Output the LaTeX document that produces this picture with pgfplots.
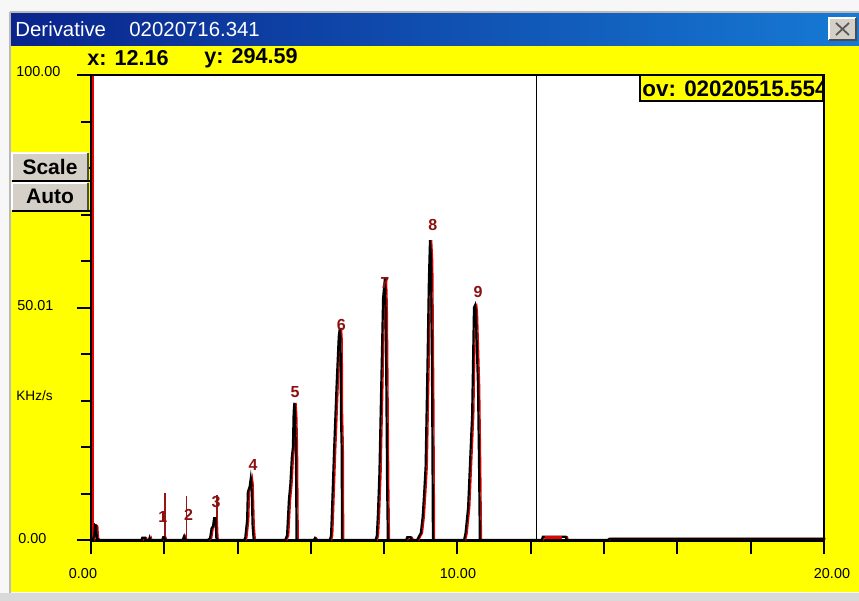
\documentclass[border=0pt]{standalone}
\usepackage{pgfplots}
\pgfplotsset{compat=1.18}
\usepackage{pgfplotstable}
\usepackage{fontspec}
\setmainfont{Liberation Sans}

\definecolor{winyellow}{RGB}{255,255,0}
\definecolor{btngray}{RGB}{212,208,200}
\definecolor{peaklbl}{RGB}{140,16,16}
\definecolor{markline}{RGB}{150,20,20}
\definecolor{tracered}{RGB}{235,0,0}
\definecolor{barleft}{RGB}{10,36,140}
\definecolor{barright}{RGB}{22,122,212}

% derivative trace (x in min, y in KHz/s)
\pgfplotstableread{
x y
0.00 0
0.05 0
0.09 1.0
0.11 3.2
0.14 3.0
0.16 0.5
0.20 0
1.38 0
1.40 0.5
1.47 0.5
1.49 0
1.58 0
1.60 0.5
1.62 0
1.94 0
1.97 0.6
2.00 0.6
2.02 0
2.50 0
2.54 0.8
2.56 0.3
2.58 0
3.19 0
3.25 0.4
3.29 2.5
3.33 3.0
3.36 4.7
3.40 4.7
3.42 0.5
3.44 0
4.18 0
4.21 0.5
4.26 4.3
4.28 10.3
4.33 11.5
4.36 13.3
4.38 12.0
4.41 3.0
4.44 0
5.30 0
5.35 1.0
5.40 8.6
5.44 12.0
5.48 17.8
5.51 20.0
5.53 27.5
5.55 29.5
5.57 27.0
5.59 20.0
5.61 0
6.08 0
6.11 0.4
6.14 0
6.52 0
6.55 1.0
6.57 5.0
6.63 18.7
6.70 33.0
6.76 43.7
6.79 45.6
6.81 43.0
6.82 27.0
6.84 20.0
6.85 0
7.77 0
7.80 1.0
7.83 5.7
7.87 14.4
7.93 37.0
7.97 52.0
8.02 56.3
8.04 50.0
8.06 32.0
8.08 12.0
8.10 0
8.60 0
8.63 0.6
8.72 0.6
8.75 0
8.90 0
8.95 0.8
9.00 1.5
9.05 5.0
9.09 10.0
9.13 15.7
9.18 37.0
9.22 56.0
9.25 64.5
9.28 59.8
9.31 30.0
9.33 0
10.18 0
10.22 1.5
10.29 7.0
10.35 18.0
10.40 27.0
10.45 50.0
10.48 50.5
10.50 49.0
10.56 33.0
10.59 15.0
10.61 0
12.30 0
12.33 0.7
12.95 0.7
12.98 0
14.10 0
14.15 0.3
20.00 0.3
}\tracedata

\begin{document}
\begin{tikzpicture}
% window chrome, in screen pixels (1px = 0.5pt, y down)
\begin{scope}[x=0.5pt,y=-0.5pt]
  \fill[gray!6] (0,0) rectangle (859,601);
  \fill[winyellow] (11,45) rectangle (859,592);
  \shade[left color=barleft, right color=barright] (11,13) rectangle (859,45);
  \draw[gray!55, line width=0.6pt] (10,12) -- (859,12);
  \draw[gray!55, line width=0.6pt] (10,12) -- (10,594);
  \fill[gray!30] (0,593) rectangle (859,601);
  % close button
  \fill[btngray] (829,18) rectangle (856,40);
  \draw[white, line width=0.6pt] (829,40) -- (829,18) -- (856,18);
  \draw[gray!60!black, line width=0.6pt] (829,40) -- (856,40) -- (856,18);
  \draw[gray!70!black, line width=0.9pt] (836,23) -- (849,35) (849,23) -- (836,35);
  % title
  \node[white, anchor=west, inner sep=0pt, font=\fontsize{10.2}{12}\selectfont] at (15,29) {Derivative};
  \node[white, anchor=west, inner sep=0pt, font=\fontsize{10.2}{12}\selectfont] at (129,29) {02020716.341};
  % cursor readout
  \node[anchor=west, inner sep=0pt, font=\bfseries\fontsize{10.8}{12}\selectfont] at (87,58) {x: 12.16};
  \node[anchor=west, inner sep=0pt, font=\bfseries\fontsize{10.8}{12}\selectfont] at (204,58) {y: 294.59};
  % plot area
  \fill[white] (91,75) rectangle (824,540);
  % axis labels
  \node[anchor=west, inner sep=0pt, font=\fontsize{7.2}{8}\selectfont] at (16,72) {100.00};
  \node[anchor=west, inner sep=0pt, font=\fontsize{7.2}{8}\selectfont] at (17,306) {50.01};
  \node[anchor=west, inner sep=0pt, font=\fontsize{6.8}{8}\selectfont] at (16,396) {KHz/s};
  \node[anchor=west, inner sep=0pt, font=\fontsize{7.2}{8}\selectfont] at (18,539) {0.00};
  \node[inner sep=0pt, font=\fontsize{7.2}{8}\selectfont] at (83,574) {0.00};
  \node[inner sep=0pt, font=\fontsize{7.2}{8}\selectfont] at (458,574) {10.00};
  \node[inner sep=0pt, font=\fontsize{7.2}{8}\selectfont] at (832,574) {20.00};
\end{scope}

\begin{axis}[
  at={(45.5pt,-270pt)}, anchor=south west,
  scale only axis, width=366.5pt, height=232.5pt,
  xmin=0, xmax=20, ymin=0, ymax=100,
  axis x line*=bottom, axis y line*=left,
  axis line style={line width=1.5pt, black},
  xtick={0,2,...,20}, ytick={0,50,100}, minor y tick num=4,
  xticklabels={}, yticklabels={},
  tick align=outside, major tick length=7pt, minor tick length=5pt,
  tick style={black, line width=1pt},
  clip=false
]
\addplot[tracered, line width=1pt] coordinates {(0.05,0)(0.05,100)};
\addplot[black, line width=0.8pt] coordinates {(12.16,0)(12.16,100)};
\addplot[markline, line width=0.8pt] coordinates {(2.02,0)(2.02,10.1)};
\addplot[markline, line width=0.8pt] coordinates {(2.61,0)(2.61,9.5)};
\addplot[markline, line width=0.8pt] coordinates {(3.43,0)(3.43,9.7)};
\addplot[tracered, line width=0.7pt, xshift=0.8pt] table[x=x, y=y] {\tracedata};
\addplot[black, line width=1.1pt] table[x=x, y=y] {\tracedata};
\addplot[tracered, line width=1.5pt] coordinates {(12.40,0.55)(12.85,0.55)};
\foreach \px/\py/\lb in {1.96/4.9/1, 2.66/5.3/2, 3.41/8.2/3, 4.42/16.1/4, 5.57/31.8/5, 6.83/46.2/6, 8.02/55.3/7, 9.33/67.7/8, 10.56/53.3/9}{
  \edef\temp{\noexpand\node[peaklbl, inner sep=0pt, font=\noexpand\bfseries\noexpand\fontsize{8}{9}\noexpand\selectfont] at (axis cs:\px,\py) {\lb};}
  \temp
}
\end{axis}

\begin{scope}[x=0.5pt,y=-0.5pt]
  \draw[black, line width=0.8pt] (90,75) -- (824,75) -- (824,540);
  % buttons (cover the y ticks behind them)
  \foreach \yt/\txt in {153/Scale,183/Auto}{
    \fill[btngray] (12,\yt) rectangle (88,\yt+27);
    \draw[white, line width=0.6pt] (12,\yt+27) -- (12,\yt) -- (88,\yt);
    \draw[black, line width=0.9pt] (12,\yt+28) -- (90,\yt+28);
    \draw[gray!60!black, line width=0.6pt] (88,\yt) -- (88,\yt+27);
    \node[inner sep=0pt, font=\bfseries\fontsize{10.5}{12}\selectfont] at (50,\yt+13.5) {\txt};
  }
  \begin{scope}
    \clip (640,75) rectangle (823,101);
    \fill[winyellow] (640,75) rectangle (823,101);
    \node[anchor=west, inner sep=0pt, font=\bfseries\fontsize{11.2}{13}\selectfont] at (642,89) {ov: 02020515.554};
  \end{scope}
  \draw[black, line width=0.9pt] (640,75) rectangle (823,101);
  \pgfresetboundingbox
  \path[use as bounding box] (0,0) rectangle (859,601);
\end{scope}
\end{tikzpicture}
\end{document}
